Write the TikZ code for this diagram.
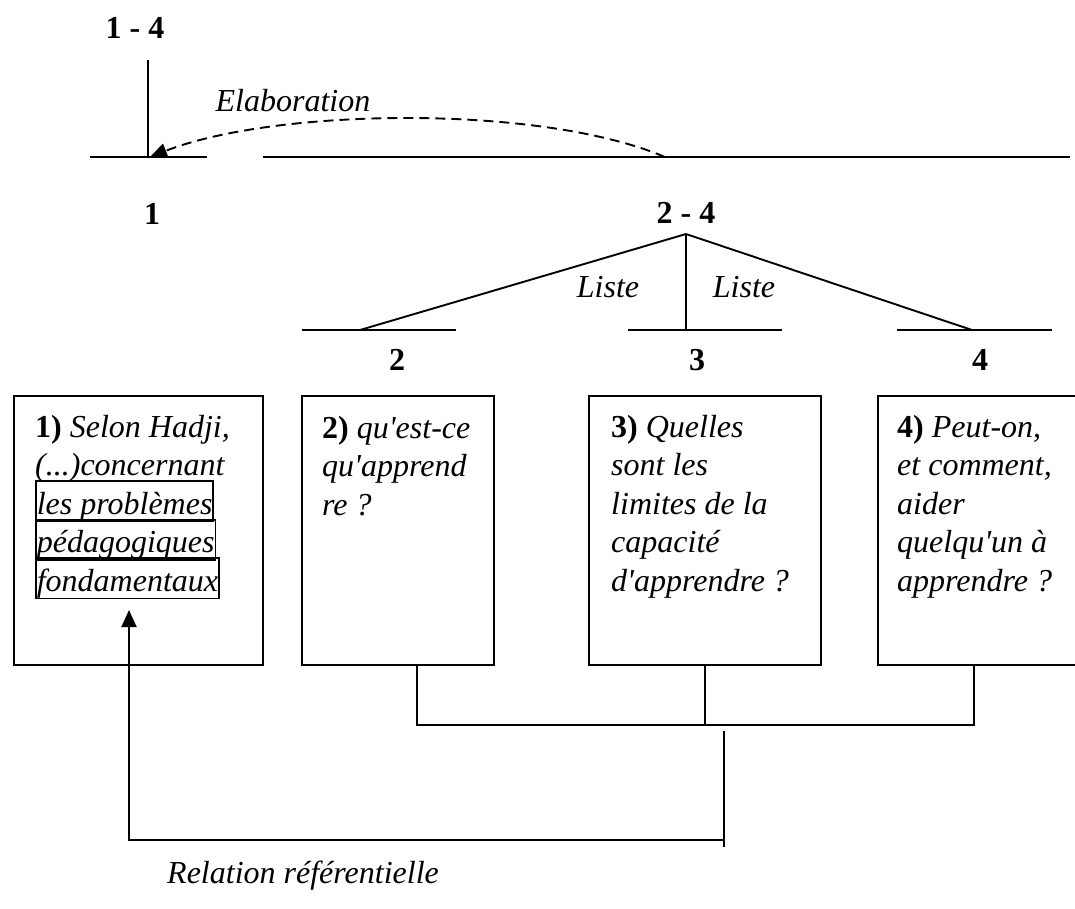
\documentclass[tikz,border=0pt]{standalone}
\usepackage{fontspec}
\setmainfont{Liberation Serif}[Ligatures=TeXOff]
\usetikzlibrary{arrows.meta}
\newcommand\wordframe[1]{{\setlength\fboxsep{0pt}\setlength\fboxrule{1.6pt}\fbox{\rule[-6pt]{0pt}{38pt}\textit{#1}}}}
\tikzset{
  ln/.style={line width=1.9pt},
  lbl/.style={font=\fontsize{32}{38.5}\selectfont\bfseries, inner sep=0pt, anchor=base},
  rel/.style={font=\fontsize{32}{38.5}\selectfont\itshape, inner sep=0pt, anchor=base},
  qbox/.style={draw, line width=1.9pt, minimum height=269pt, inner sep=0pt, outer sep=0pt, anchor=north west},
  qtext/.style={inner sep=0pt, anchor=base west, font=\fontsize{32}{38.5}\selectfont},
  tip/.style={-{Triangle[length=17pt,width=15pt]}},
  dashcurve/.style={line width=1.9pt, dash pattern=on 10pt off 6pt},
}
\begin{document}
\begin{tikzpicture}[x=1pt,y=-1pt]
\useasboundingbox (0,0) rectangle (1075,908);
\clip (0,0) rectangle (1075,908);
% labels
\node[lbl] (l14) at (135,38) {1 - 4};
\node[rel] (elab) at (293,111) {Elaboration};
\node[lbl] (l1) at (152,224) {1};
\node[lbl] (l24) at (686,223) {2 - 4};
\node[rel] (liste1) at (608,297) {Liste};
\node[rel] (liste2) at (744,297) {Liste};
\node[lbl] (l2) at (397,370) {2};
\node[lbl] (l3) at (697,370) {3};
\node[lbl] (l4) at (980,370) {4};
% top structure
\coordinate (top14) at (148,60);
\coordinate (j1) at (148,157);
\coordinate (h1L) at (90,157);
\coordinate (h1R) at (207,157);
\coordinate (h24L) at (263,157);
\coordinate (h24R) at (1070,157);
\coordinate (e24) at (665,157);
\draw[ln] (top14) -- (j1);
\draw[ln] (h1L) -- (h1R);
\draw[ln] (h24L) -- (h24R);
\draw[dashcurve, tip] (e24) .. controls (540,104) and (275,108) .. ([xshift=2pt]j1);
% 2-4 tree
\coordinate (apex) at (686,234);
\coordinate (s2) at (360,330);
\coordinate (s3) at (686,330);
\coordinate (s4) at (972,330);
\draw[ln] (apex) -- (s2);
\draw[ln] (apex) -- (s3);
\draw[ln] (apex) -- (s4);
\coordinate (h2L) at (302,330); \coordinate (h2R) at (456,330);
\coordinate (h3L) at (628,330); \coordinate (h3R) at (782,330);
\coordinate (h4L) at (897,330); \coordinate (h4R) at (1052,330);
\draw[ln] (h2L) -- (h2R);
\draw[ln] (h3L) -- (h3R);
\draw[ln] (h4L) -- (h4R);
% boxes
\node[qbox, minimum width=249pt] (b1) at (14,396) {};
\node[qbox, minimum width=192pt] (b2) at (302,396) {};
\node[qbox, minimum width=232pt] (b3) at (589,396) {};
\node[qbox, minimum width=210pt] (b4) at (878,396) {};
\node[qtext] (t1) at ([xshift=21pt,yshift=-41pt]b1.north west) {\parbox[t]{230pt}{\raggedright\lineskiplimit=-100pt
  \textbf{1)} \textit{Selon Hadji,}\\
  \textit{(...)concernant}\\
  \wordframe{les problèmes}\\
  \wordframe{pédagogiques}\\
  \wordframe{fondamentaux}}};
\node[qtext] (t2) at ([xshift=20pt,yshift=-42pt]b2.north west) {\parbox[t]{180pt}{\raggedright
  \textbf{2)} \textit{qu'est-ce}\\
  \textit{qu'apprend}\\
  \textit{re ?}}};
\node[qtext] (t3) at ([xshift=22pt,yshift=-41pt]b3.north west) {\parbox[t]{210pt}{\raggedright
  \textbf{3)} \textit{Quelles}\\
  \textit{sont les}\\
  \textit{limites de la}\\
  \textit{capacité}\\
  \textit{d'apprendre ?}}};
\node[qtext] (t4) at ([xshift=19pt,yshift=-41pt]b4.north west) {\parbox[t]{190pt}{\raggedright
  \textbf{4)} \textit{Peut-on,}\\
  \textit{et comment,}\\
  \textit{aider}\\
  \textit{quelqu'un à}\\
  \textit{apprendre ?}}};
% bottom connectors
\coordinate (j2) at ([xshift=19pt]b2.south);
\coordinate (j4) at ([xshift=-9pt]b4.south);
\coordinate (busL) at (j2 |- 0,725);
\coordinate (busR) at (j4 |- 0,725);
\draw[ln] (j2) -- (busL) -- (busR) -- (j4);
\draw[ln] (b3.south) -- (b3.south |- busL);
\coordinate (r1) at (724,731);
\coordinate (r2) at (724,847);
\coordinate (r3) at (724,840);
\coordinate (r4) at (129,840);
\coordinate (rtip) at (129,610);
\draw[ln] (r1) -- (r2);
\draw[ln, tip] (r3) -- (r4) -- (rtip);
\node[rel] (relt) at (303,883) {Relation référentielle};
\end{tikzpicture}
\end{document}
